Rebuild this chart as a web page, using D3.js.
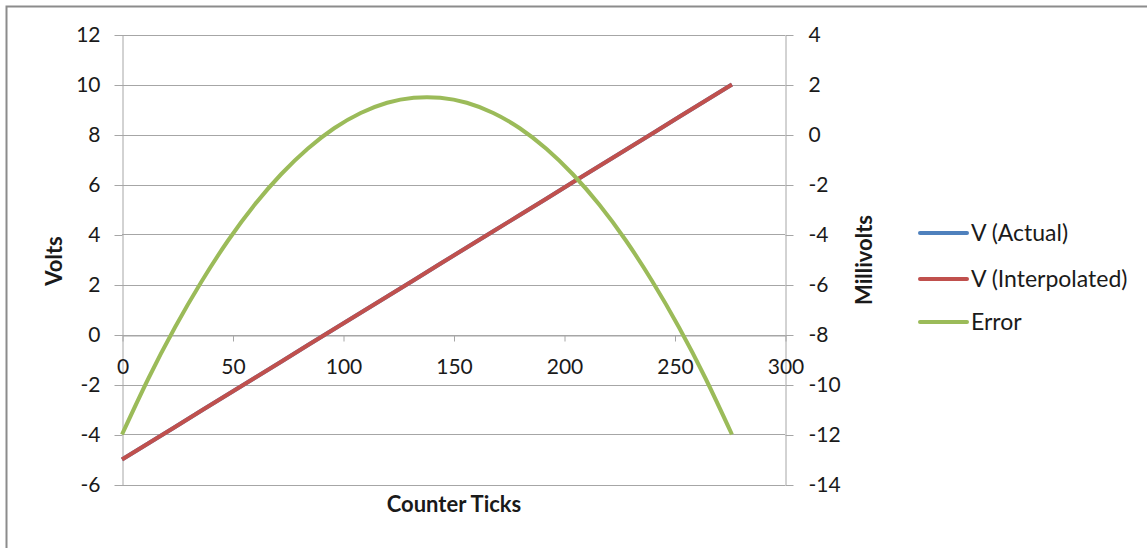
<!DOCTYPE html>
<html>
<head>
<meta charset="utf-8">
<script src="https://cdn.jsdelivr.net/npm/d3@7"></script>
<style>
  html, body { margin: 0; padding: 0; background: #fff; }
  svg { display: block; }
  text { font-family: Lato, "Open Sans", sans-serif; fill: #1a1a1a; }
</style>
</head>
<body>
<svg id="chart" width="1147" height="548"></svg>
<script>
// Counter ticks sampled along the sweep
const counterTicks = [0, 12, 24, 36, 48, 60, 72, 84, 96, 108, 120, 132, 144, 156, 168, 180, 192, 204, 216, 228, 240, 252, 264, 276];
// Measured voltage (V)
const vActual = [-5.00, -4.35, -3.70, -3.04, -2.39, -1.74, -1.09, -0.43, 0.22, 0.87, 1.52, 2.17, 2.83, 3.48, 4.13, 4.78, 5.43, 6.09, 6.74, 7.39, 8.04, 8.70, 9.35, 10.00];
// Voltage from linear interpolation (V)
const vInterpolated = [-5.00, -4.35, -3.70, -3.04, -2.39, -1.74, -1.09, -0.43, 0.22, 0.87, 1.52, 2.17, 2.83, 3.48, 4.13, 4.78, 5.43, 6.09, 6.74, 7.39, 8.04, 8.70, 9.35, 10.00];
// Interpolation error (mV)
const errorMv = [-12.00, -9.75, -7.71, -5.88, -4.24, -2.81, -1.59, -0.57, 0.25, 0.86, 1.27, 1.47, 1.47, 1.27, 0.86, 0.25, -0.57, -1.59, -2.81, -4.24, -5.88, -7.71, -9.75, -12.00];

// Axis ticks
const xTicks = [0, 50, 100, 150, 200, 250, 300];
const voltTicks = [-6, -4, -2, 0, 2, 4, 6, 8, 10, 12];
const milliTicks = [-14, -12, -10, -8, -6, -4, -2, 0, 2, 4];

const seriesNames = ["V (Actual)", "V (Interpolated)", "Error"];
const seriesColors = ["#4F81BD", "#C0504D", "#9BBB59"];

const svg = d3.select("#chart");
const gridColor = "#a6a6a6";

// Outer chart frame
svg.append("rect")
  .attr("x", 6.5).attr("y", 6.5)
  .attr("width", 1200).attr("height", 600)
  .attr("fill", "none").attr("stroke", "#8c8c8c").attr("stroke-width", 2);

const plotLeft = 122, plotRight = 785, plotTop = 34.5, plotBottom = 484.5;
const x = d3.scaleLinear().domain([0, 300]).range([plotLeft, plotRight]);
const yL = d3.scaleLinear().domain([-6, 12]).range([plotBottom, plotTop]);
const yR = d3.scaleLinear().domain([-14, 4]).range([plotBottom, plotTop]);

// Horizontal gridlines
svg.append("g").selectAll("line").data(voltTicks).join("line")
  .attr("x1", plotLeft).attr("x2", plotRight)
  .attr("y1", d => Math.round(yL(d)) + 0.5).attr("y2", d => Math.round(yL(d)) + 0.5)
  .attr("stroke", gridColor).attr("stroke-width", 1);

function styleAxis(g) {
  g.selectAll("path.domain").attr("stroke", gridColor).attr("stroke-width", 1);
  g.selectAll(".tick line").attr("stroke", gridColor).attr("stroke-width", 1);
  g.selectAll(".tick text").attr("font-size", 21).attr("fill", "#1a1a1a")
    .style("font-family", "Lato, 'Open Sans', sans-serif");
}

// Primary (volts) axis
svg.append("g")
  .attr("transform", `translate(${plotLeft + 0.5},0.5)`)
  .call(d3.axisLeft(yL).tickValues(voltTicks).tickFormat(d => String(d))
    .tickSize(8).tickSizeOuter(0).tickPadding(14))
  .call(styleAxis);

// Secondary (millivolts) axis
svg.append("g")
  .attr("transform", `translate(${plotRight + 0.5},0.5)`)
  .call(d3.axisRight(yR).tickValues(milliTicks).tickFormat(d => String(d))
    .tickSize(8).tickSizeOuter(0).tickPadding(15))
  .call(styleAxis);

// Horizontal axis crossing at 0 V
svg.append("g")
  .attr("transform", `translate(0.5,${Math.round(yL(0)) + 0.5})`)
  .call(d3.axisBottom(x).tickValues(xTicks).tickFormat(d => String(d))
    .tickSize(6).tickSizeOuter(0).tickPadding(18))
  .call(styleAxis);

// Series lines
const lineL = d3.line().x((d, i) => x(counterTicks[i])).y(d => yL(d));
const lineR = d3.line().x((d, i) => x(counterTicks[i])).y(d => yR(d)).curve(d3.curveNatural);

svg.append("path").datum(vActual).attr("d", lineL)
  .attr("fill", "none").attr("stroke", seriesColors[0]).attr("stroke-width", 4).attr("stroke-linejoin", "round");
svg.append("path").datum(vInterpolated).attr("d", lineL)
  .attr("fill", "none").attr("stroke", seriesColors[1]).attr("stroke-width", 4).attr("stroke-linejoin", "round");
svg.append("path").datum(errorMv).attr("d", lineR)
  .attr("fill", "none").attr("stroke", seriesColors[2]).attr("stroke-width", 4).attr("stroke-linejoin", "round");

// Axis titles
svg.append("text")
  .attr("transform", `translate(62,261) rotate(-90)`)
  .attr("text-anchor", "middle").attr("font-size", 22).attr("font-weight", "bold")
  .text("Volts");
svg.append("text")
  .attr("transform", `translate(872,260) rotate(-90)`)
  .attr("text-anchor", "middle").attr("font-size", 22).attr("font-weight", "bold")
  .text("Millivolts");
svg.append("text")
  .attr("x", 454).attr("y", 512)
  .attr("text-anchor", "middle").attr("font-size", 22).attr("font-weight", "bold")
  .text("Counter Ticks");

// Legend
const legendY = [233, 279, 322];
const legend = svg.append("g").selectAll("g").data(seriesNames).join("g")
  .attr("transform", (d, i) => `translate(0,${legendY[i]})`);
legend.append("line")
  .attr("x1", 920).attr("x2", 967).attr("y1", 0).attr("y2", 0)
  .attr("stroke", (d, i) => seriesColors[i]).attr("stroke-width", 4).attr("stroke-linecap", "round");
legend.append("text")
  .attr("x", 971).attr("y", 0).attr("dy", "0.35em")
  .attr("font-size", 23)
  .text(d => d);
</script>
</body>
</html>
